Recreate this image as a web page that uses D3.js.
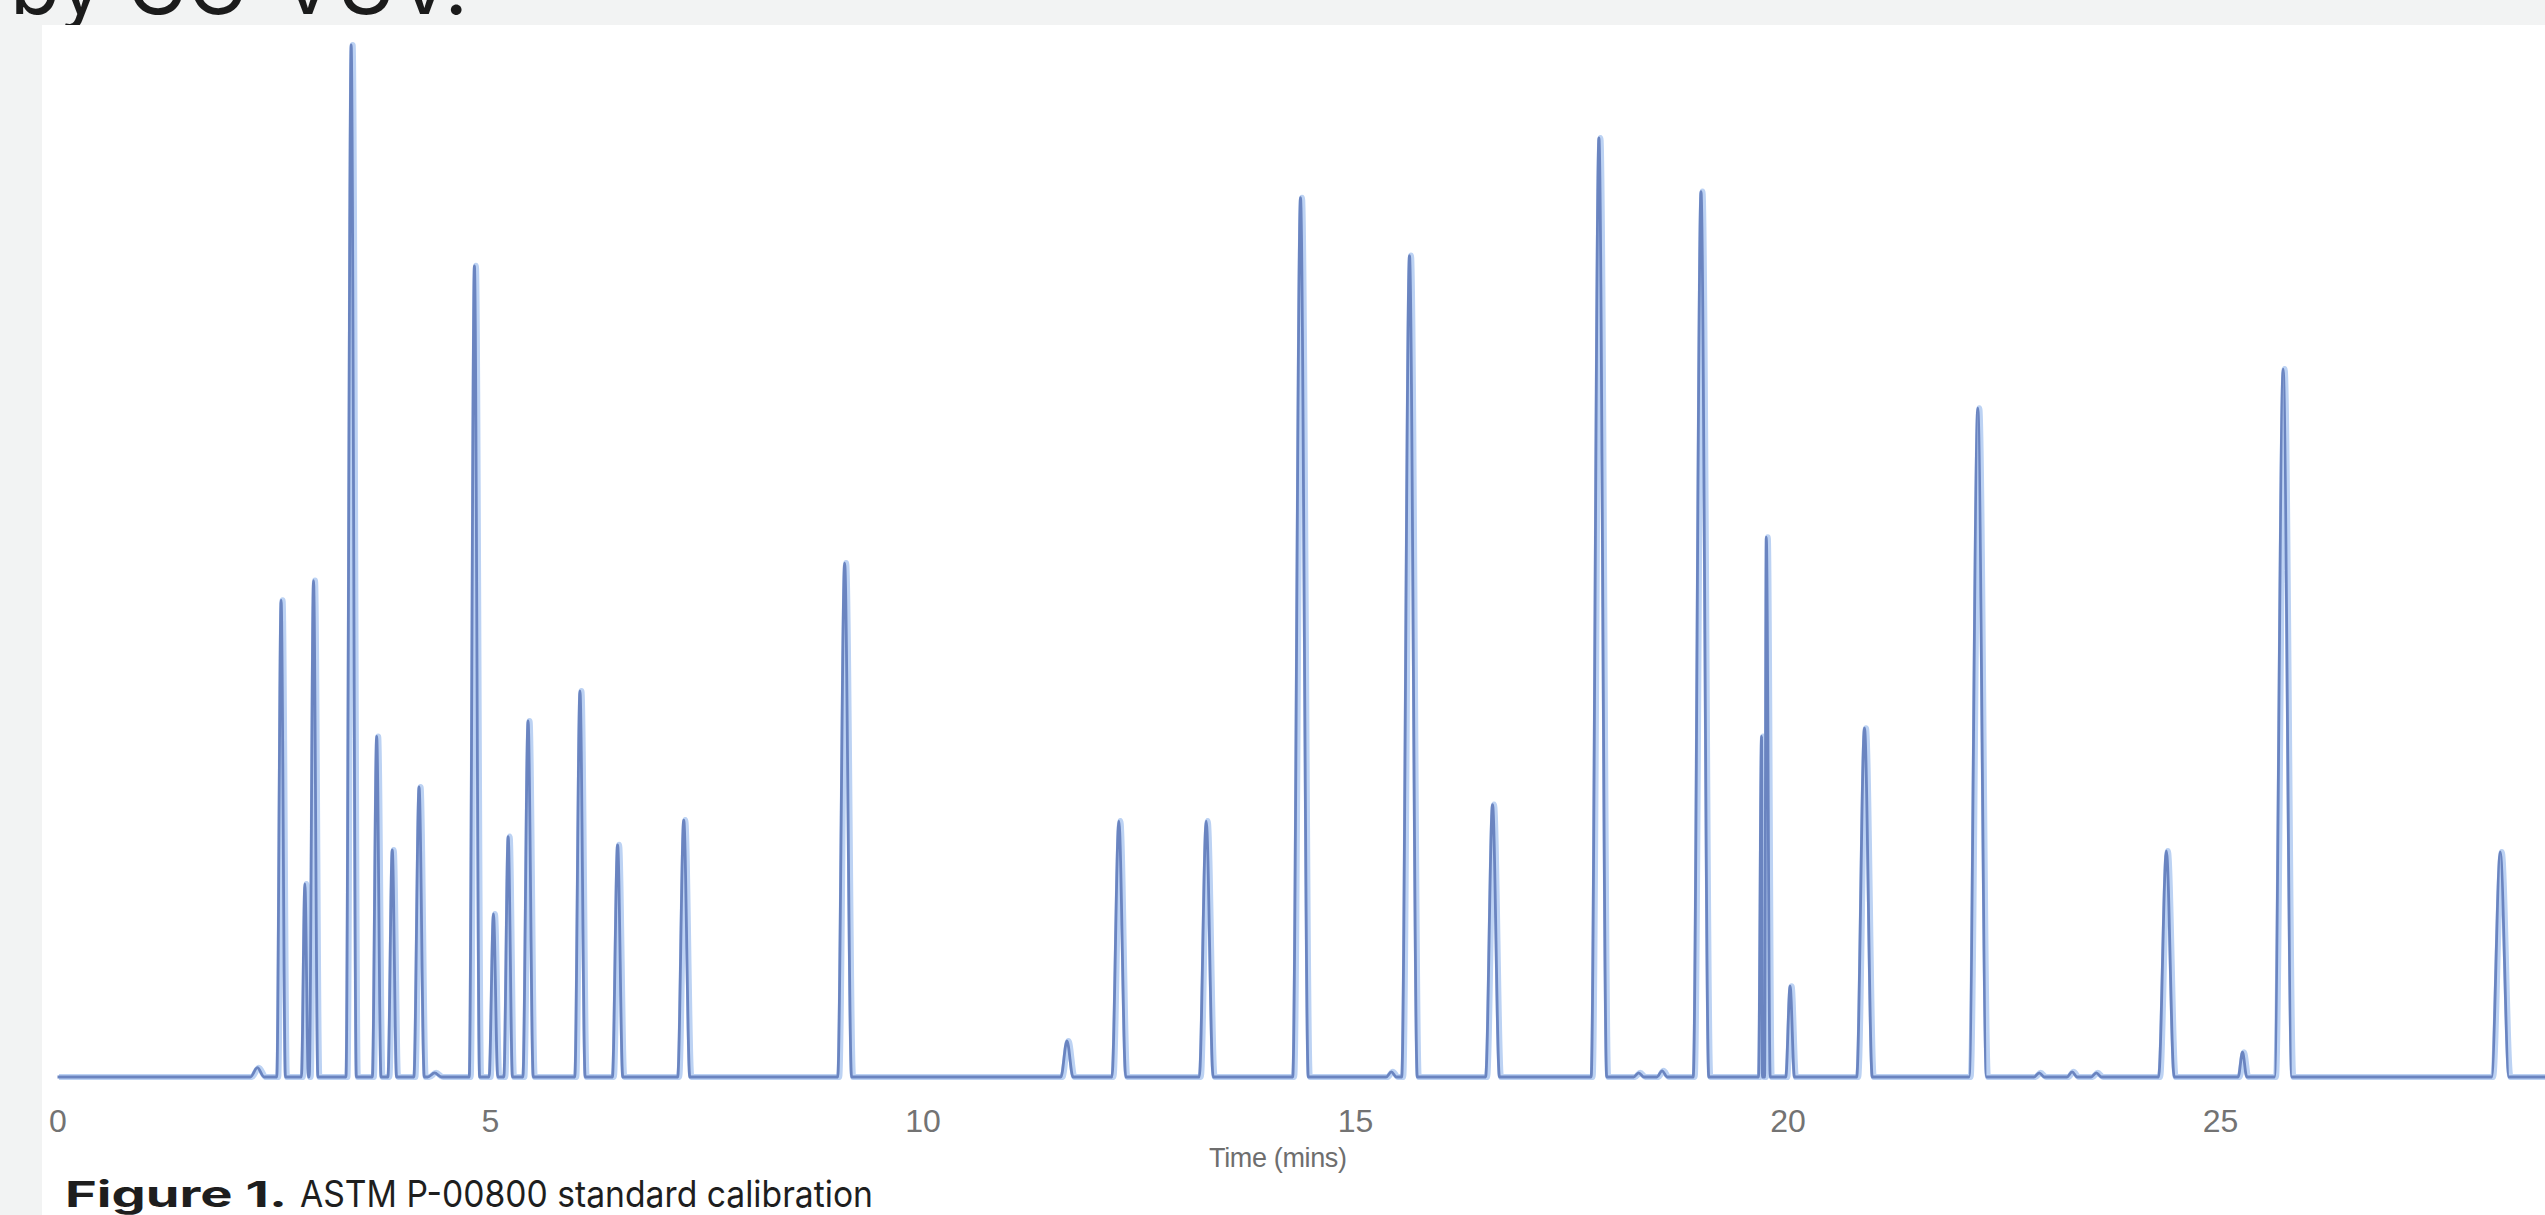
<!DOCTYPE html>
<meta charset="utf-8">
<style>
  html, body {
    margin: 0;
    padding: 0;
    background: #f2f3f3;
    overflow: hidden;
  }
  svg { display: block; }
  .axis text {
    font-family: "Liberation Sans", Arial, sans-serif;
    fill: #737373;
  }
</style>
<body>
<svg id="chart" width="2545" height="1215"></svg>

<script src="https://cdn.jsdelivr.net/npm/d3@7/dist/d3.min.js"></script>
<script>

// peaks: retention time (min), height (% of largest), half base width (min)
const peakTimes = [
  2.31, 2.585, 2.86, 2.96, 3.395, 3.69, 3.87, 4.18, 4.36, 4.82,
  5.04, 5.21, 5.44, 6.04, 6.475, 7.24, 9.10, 11.67, 12.27, 13.28,
  14.37, 15.42, 15.63, 16.59, 17.82, 18.28, 18.55, 19.00, 19.70, 19.755,
  20.03, 20.89, 22.20, 22.91, 23.29, 23.57, 24.38, 25.26, 25.73, 28.24
];
const peakHeights = [
  0.9, 46.2, 18.7, 48.1, 100, 33.0, 22.0, 28.1, 0.4, 78.6,
  15.8, 23.3, 34.5, 37.4, 22.5, 24.9, 49.8, 3.5, 24.8, 24.8,
  85.2, 0.5, 79.6, 26.4, 91.0, 0.4, 0.6, 85.8, 33.0, 52.3,
  8.8, 33.8, 64.8, 0.4, 0.5, 0.4, 21.9, 2.4, 68.6, 21.8
];
const peakWidths = [
  0.08, 0.05, 0.04, 0.05, 0.06, 0.05, 0.05, 0.06, 0.08, 0.06,
  0.05, 0.05, 0.06, 0.06, 0.06, 0.07, 0.08, 0.07, 0.08, 0.08,
  0.09, 0.06, 0.09, 0.08, 0.09, 0.06, 0.06, 0.09, 0.035, 0.045,
  0.05, 0.09, 0.10, 0.06, 0.06, 0.06, 0.09, 0.05, 0.10, 0.10
];
const runStart = 0;
const runEnd = 28.8;
const tickValues = [0, 5, 10, 15, 20, 25];

const W = 2545, H = 1215;
const panel = {left: 42, top: 25};

const svg = d3.select("#chart");

// heading line above the panel, only its lower edge shows
svg.append("text")
  .attr("x", 10)
  .attr("y", 14)
  .attr("textLength", 458)
  .attr("lengthAdjust", "spacingAndGlyphs")
  .style("font-family", "Inter, 'Open Sans', sans-serif")
  .style("font-size", "80px")
  .style("fill", "#1b1b1b")
  .text("by GC-VUV.");

svg.append("rect")
  .attr("x", panel.left)
  .attr("y", panel.top)
  .attr("width", W - panel.left)
  .attr("height", H - panel.top)
  .attr("fill", "#fff");

const x = d3.scaleLinear().domain([0, 30]).range([57.5, 57.5 + 86.5 * 30]);
const y = d3.scaleLinear().domain([0, 100]).range([1077, 45]);

// trace points: baseline before, apex, baseline after each peak
let pts = [[runStart, 0], [runEnd, 0]];
peakTimes.forEach((t, i) => {
  const w = peakWidths[i];
  pts.push([t - w, 0], [t, peakHeights[i]], [t + w, 0]);
});
pts.sort((a, b) => a[0] - b[0]);

svg.append("clipPath").attr("id", "clip")
  .append("rect")
  .attr("x", panel.left).attr("y", panel.top)
  .attr("width", W - panel.left).attr("height", H - panel.top);

const line = d3.line()
  .x(d => x(d[0]))
  .y(d => y(d[1]))
  .curve(d3.curveMonotoneX);

const g = svg.append("g").attr("clip-path", "url(#clip)");

g.append("path")
  .datum(pts)
  .attr("d", line)
  .attr("fill", "none")
  .attr("stroke", "#bcd2f3")
  .attr("stroke-width", 6)
  .attr("stroke-linejoin", "round")
  .attr("transform", "translate(1.5,0)");

g.append("path")
  .datum(pts)
  .attr("d", line)
  .attr("fill", "none")
  .attr("stroke", "#6a84c0")
  .attr("stroke-width", 2.8)
  .attr("stroke-linejoin", "round");

const axis = svg.append("g")
  .attr("class", "axis")
  .attr("transform", "translate(0,1100)")
  .call(d3.axisBottom(x).tickValues(tickValues).tickSize(0).tickPadding(0));
axis.select(".domain").remove();
axis.selectAll("text")
  .attr("dy", "1.0em")
  .style("font-size", "32px");

svg.append("text")
  .attr("x", 1209)
  .attr("y", 1167)
  .attr("textLength", 138)
  .style("font-family", "'Liberation Sans', Arial, sans-serif")
  .style("font-size", "27px")
  .style("fill", "#6e6e6e")
  .text("Time (mins)");

// figure caption
svg.append("text")
  .attr("x", 65)
  .attr("y", 1207)
  .attr("textLength", 222)
  .attr("lengthAdjust", "spacingAndGlyphs")
  .style("font-family", "Inter, 'Open Sans', sans-serif")
  .style("font-size", "36px")
  .style("font-weight", 700)
  .style("fill", "#1e1e1e")
  .text("Figure 1.");

svg.append("text")
  .attr("x", 300)
  .attr("y", 1207)
  .attr("textLength", 573)
  .attr("lengthAdjust", "spacingAndGlyphs")
  .style("font-family", "Inter, 'Open Sans', sans-serif")
  .style("font-size", "37px")
  .style("fill", "#1e1e1e")
  .text("ASTM P-00800 standard calibration");

</script>
